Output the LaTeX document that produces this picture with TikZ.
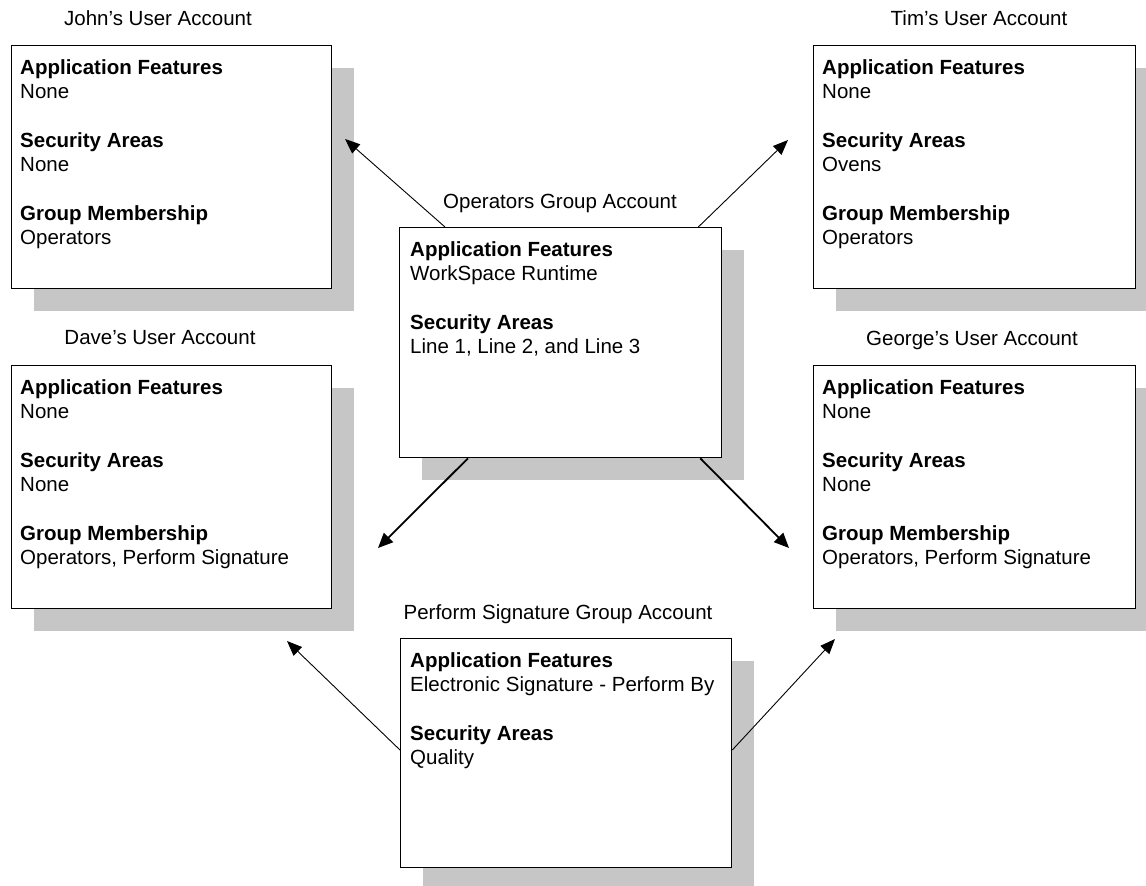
\documentclass[tikz,border=0pt]{standalone}
\usepackage{fontspec}
\setmainfont{Liberation Sans}
\usetikzlibrary{arrows.meta,shadows}
\definecolor{shadowc}{RGB}{198,198,198}
\begin{document}
\begin{tikzpicture}[x=1pt,y=-1pt,
  acct/.style={draw=black, line width=1.3pt, fill=white, anchor=north west, inner sep=0pt,
    drop shadow={shadow xshift=22pt, shadow yshift=-22pt, fill=shadowc, opacity=1, draw=none}},
  txt/.style={anchor=north west, inner sep=0pt, align=left, font=\fontsize{20.5}{24.5}\selectfont},
  ttl/.style={inner sep=0pt, font=\fontsize{20.5}{24.5}\selectfont},
  thinarrow/.style={line width=0.9pt, -{Triangle[length=15pt,width=12pt]}},
  thickarrow/.style={line width=1.8pt, -{Triangle[length=15pt,width=13pt]}}
]
\useasboundingbox (0,0) rectangle (1146,886);

% boxes
\node[acct, minimum width=320pt, minimum height=243pt] (john) at (11,45) {};
\node[acct, minimum width=322pt, minimum height=243pt] (tim) at (813,45) {};
\node[acct, minimum width=320pt, minimum height=243pt] (dave) at (11,365) {};
\node[acct, minimum width=322pt, minimum height=243pt] (george) at (813,365) {};
\node[acct, minimum width=322pt, minimum height=230pt] (ops) at (399,227) {};
\node[acct, minimum width=331pt, minimum height=229pt] (perf) at (400,638) {};

% titles
\node[ttl] (johnL) at (158,18) {John's User Account};
\node[ttl] (timL) at (979,18) {Tim's User Account};
\node[ttl] (daveL) at (160,338) {Dave's User Account};
\node[ttl] (georgeL) at (972,340) {George's User Account};
\node[ttl] (opsL) at (560,203) {Operators Group Account};
\node[ttl] (perfL) at (558,614) {Perform Signature Group Account};

% contents
\node[txt] (johnT) at ([shift={(9pt,-14pt)}]john.north west)
  {\textbf{Application Features}\\None\\[24pt]\textbf{Security Areas}\\None\\[24pt]\textbf{Group Membership}\\Operators};
\node[txt] (timT) at ([shift={(9pt,-14pt)}]tim.north west)
  {\textbf{Application Features}\\None\\[24pt]\textbf{Security Areas}\\Ovens\\[24pt]\textbf{Group Membership}\\Operators};
\node[txt] (daveT) at ([shift={(9pt,-14pt)}]dave.north west)
  {\textbf{Application Features}\\None\\[24pt]\textbf{Security Areas}\\None\\[24pt]\textbf{Group Membership}\\Operators, Perform Signature};
\node[txt] (georgeT) at ([shift={(9pt,-14pt)}]george.north west)
  {\textbf{Application Features}\\None\\[24pt]\textbf{Security Areas}\\None\\[24pt]\textbf{Group Membership}\\Operators, Perform Signature};
\node[txt] (opsT) at ([shift={(11pt,-14pt)}]ops.north west)
  {\textbf{Application Features}\\WorkSpace Runtime\\[24pt]\textbf{Security Areas}\\Line 1, Line 2, and Line 3};
\node[txt] (perfT) at ([shift={(10pt,-14pt)}]perf.north west)
  {\textbf{Application Features}\\Electronic Signature - Perform By\\[24pt]\textbf{Security Areas}\\Quality};

% arrow ends
\coordinate (tJohn) at (345,139);
\coordinate (tTim) at (788,140);
\coordinate (tDave1) at (378,548);
\coordinate (tGeorge1) at (789,548);
\coordinate (tDave2) at (287,641);
\coordinate (tGeorge2) at (835,639);

% connectors
\draw[thinarrow] ([xshift=46pt]ops.north west) -- (tJohn);
\draw[thinarrow] ([xshift=-24pt]ops.north east) -- (tTim);
\draw[thickarrow] ([xshift=69pt]ops.south west) -- (tDave1);
\draw[thickarrow] ([xshift=-22pt]ops.south east) -- (tGeorge1);
\draw[thinarrow] ([yshift=-112pt]perf.north west) -- (tDave2);
\draw[thinarrow] ([yshift=-112pt]perf.north east) -- (tGeorge2);
\end{tikzpicture}
\end{document}
